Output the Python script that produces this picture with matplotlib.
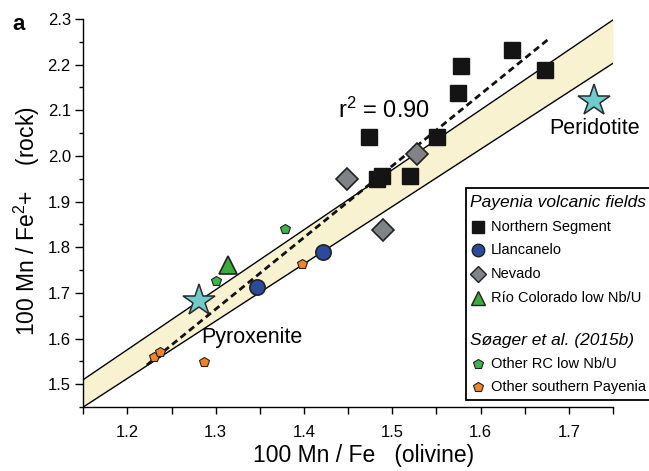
import matplotlib
matplotlib.use("Agg")
import matplotlib.pyplot as plt
from matplotlib.lines import Line2D
from matplotlib.patches import Rectangle
from matplotlib.ticker import MultipleLocator
import numpy as np

plt.rcParams['font.family'] = ['Liberation Sans', 'DejaVu Sans']
plt.rcParams['mathtext.fontset'] = 'custom'
plt.rcParams['mathtext.rm'] = 'Liberation Sans'
plt.rcParams['mathtext.it'] = 'Liberation Sans:italic'

# ---- data ----
north_x = [1.636, 1.673, 1.578, 1.574, 1.551, 1.474, 1.488, 1.483, 1.520]
north_y = [2.231, 2.188, 2.198, 2.137, 2.042, 2.042, 1.956, 1.950, 1.955]
llan_x = [1.421, 1.347]
llan_y = [1.790, 1.712]
nev_x = [1.528, 1.449, 1.489]
nev_y = [2.004, 1.950, 1.838]
rc_x = [1.314]
rc_y = [1.761]
other_rc_x = [1.378, 1.300]
other_rc_y = [1.841, 1.725]
other_sp_x = [1.398, 1.287, 1.2305, 1.237]
other_sp_y = [1.763, 1.548, 1.559, 1.571]
star_x = [1.728, 1.281]
star_y = [2.121, 1.683]
band_x = [1.15, 1.75]
band_lo = [1.45, 2.203]
band_hi = [1.51, 2.298]
fit_x = [1.222, 1.677]
fit_y = [1.542, 2.256]

W, H = 649, 471
fig = plt.figure(figsize=(W / 100, H / 100), dpi=100)
ax = fig.add_axes([83.3 / W, 1 - 407 / H, (613 - 83.3) / W, (407 - 19) / H])
ax.set_xlim(1.15, 1.75)
ax.set_ylim(1.45, 2.3)

# band
ax.fill_between(band_x, band_lo, band_hi, color='#f8f2d0', zorder=1, lw=0)
ax.plot(band_x, band_lo, color='black', lw=1.0, zorder=2)
ax.plot(band_x, band_hi, color='black', lw=1.0, zorder=2)

# regression
ax.plot(fit_x, fit_y, color='#111111', lw=2.0, ls=(0, (2.4, 1.5)), zorder=3)

edge = '#222222'
ax.plot(north_x, north_y, 's', ms=11, mfc='#141414', mec='#141414', zorder=5)
ax.plot(llan_x, llan_y, 'o', ms=11, mfc='#2b4a9b', mec=edge, mew=1.2, zorder=5)
ax.plot(nev_x, nev_y, 'D', ms=11, mfc='#808285', mec=edge, mew=1.2, zorder=5)
ax.plot(rc_x, rc_y, '^', ms=13, mfc='#3aab3c', mec=edge, mew=1.2, zorder=5)
ax.plot(other_rc_x, other_rc_y, 'p', ms=7, mfc='#3db54a', mec=edge, mew=0.8, zorder=5)
ax.plot(other_sp_x, other_sp_y, 'p', ms=7, mfc='#f0842c', mec=edge, mew=0.8, zorder=5)
ax.plot(star_x, star_y, '*', ms=24, mfc='#70cccc', mec='#2a2a2a', mew=1.1, zorder=6)

ax.text(1.729, 2.061, 'Peridotite', fontsize=15.5, ha='center', va='center', zorder=7)
ax.text(1.284, 1.602, 'Pyroxenite', fontsize=15.5, ha='left', va='center', zorder=7)
ax.text(1.491, 2.101, 'r$^{2}$ = 0.90', fontsize=17, ha='center', va='center', zorder=7)

# spines & ticks
for s in ['top', 'right']:
    ax.spines[s].set_visible(False)
for s in ['left', 'bottom']:
    ax.spines[s].set_linewidth(1.0)
ax.xaxis.set_minor_locator(MultipleLocator(0.05))
ax.yaxis.set_minor_locator(MultipleLocator(0.05))
ax.set_xticks([1.2, 1.3, 1.4, 1.5, 1.6, 1.7])
ax.set_xticklabels(['1.2', '1.3', '1.4', '1.5', '1.6', '1.7'])
ax.set_yticks([1.5, 1.6, 1.7, 1.8, 1.9, 2.0, 2.1, 2.2, 2.3])
ax.set_yticklabels(['1.5', '1.6', '1.7', '1.8', '1.9', '2.0', '2.1', '2.2', '2.3'])
ax.tick_params(axis='x', which='major', direction='out', length=5, width=1, labelsize=12, pad=8)
ax.tick_params(axis='x', which='minor', direction='out', length=5, width=1)
ax.tick_params(axis='y', which='major', direction='out', length=6, width=1, labelsize=12, pad=3)
ax.tick_params(axis='y', which='minor', direction='out', length=3, width=1)

ax.set_xlabel('100 Mn / Fe   (olivine)', fontsize=16.5)
ax.xaxis.set_label_coords((364 - 83.3) / (613 - 83.3), -(444 - 407) / (407 - 19))
ax.set_ylabel('100 Mn / Fe$^{2}$+    (rock)', fontsize=16.5)
ax.yaxis.set_label_coords((42 - 83.3) / (613 - 83.3), (407 - 221) / (407 - 19))

fig.text(12 / W, 1 - 25 / H, 'a', fontsize=16, fontweight='bold', va='center', ha='left')

# ---- legend (manual) ----
def fx(px):
    return px / W

def fy(py):
    return 1 - py / H

fig.add_artist(Rectangle((fx(466), fy(400)), fx(700) - fx(466), fy(188) - fy(400),
                         transform=fig.transFigure, facecolor='white', edgecolor='black',
                         lw=1.3, zorder=10, clip_on=False))

leg_items = [
    ('title', 'Payenia volcanic fields', 203, None),
    ('item', 'Northern Segment', 227, dict(marker='s', ms=8, mfc='#141414', mec='#141414')),
    ('item', 'Llancanelo', 250, dict(marker='o', ms=9, mfc='#2b4a9b', mec=edge, mew=1.0)),
    ('item', 'Nevado', 274, dict(marker='D', ms=8, mfc='#808285', mec=edge, mew=1.0)),
    ('item', 'Río Colorado low Nb/U', 298, dict(marker='^', ms=10, mfc='#3aab3c', mec=edge, mew=1.0)),
    ('title', 'Søager et al. (2015b)', 341, None),
    ('item', 'Other RC low Nb/U', 364, dict(marker='p', ms=7, mfc='#3db54a', mec=edge, mew=0.8)),
    ('item', 'Other southern Payenia', 387, dict(marker='p', ms=7, mfc='#f0842c', mec=edge, mew=0.8)),
]
for kind, label, py, style in leg_items:
    if kind == 'title':
        fig.text(fx(470), fy(py), label, fontsize=12.5, style='italic', va='center',
                 ha='left', zorder=11)
    else:
        fig.add_artist(Line2D([fx(478)], [fy(py)], transform=fig.transFigure, ls='none',
                              zorder=11, **style))
        fig.text(fx(491), fy(py), label, fontsize=10.5, va='center', ha='left', zorder=11)

fig.savefig('out.png', dpi=100)
